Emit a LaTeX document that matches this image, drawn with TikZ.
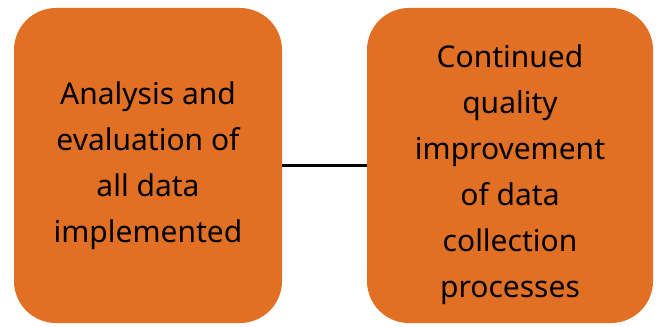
\documentclass[tikz,border=0pt]{standalone}
\usepackage{fontspec}
\setmainfont{Noto Sans}
\usepackage{tikz}
\usetikzlibrary{positioning}
\definecolor{stageorange}{RGB}{225, 112, 36}

\begin{document}
\begin{tikzpicture}[
			x=0.5pt, y=-0.5pt,
			stage/.style={rectangle, fill=stageorange, rounded corners=21pt, minimum height=157.5pt, align=center, font=\fontsize{15}{23}\selectfont, inner sep=0pt},
			link/.style={line width=1.6pt, black}
		]
		\useasboundingbox (0,0) rectangle (657,326);
		% Left stage
		\node[stage, minimum width=134pt] (analysis) at (148,165.5) {Analysis and\\evaluation of\\all data\\implemented};
		
		% Right stage
		\node[stage, minimum width=143pt, text height=136pt] (improve) at (510,165.5) {Continued\\quality\\improvement\\of data\\collection\\processes};
		
		% Connector
		\draw[link] (analysis.east) -- (improve.west);
		\end{tikzpicture}
\end{document}
